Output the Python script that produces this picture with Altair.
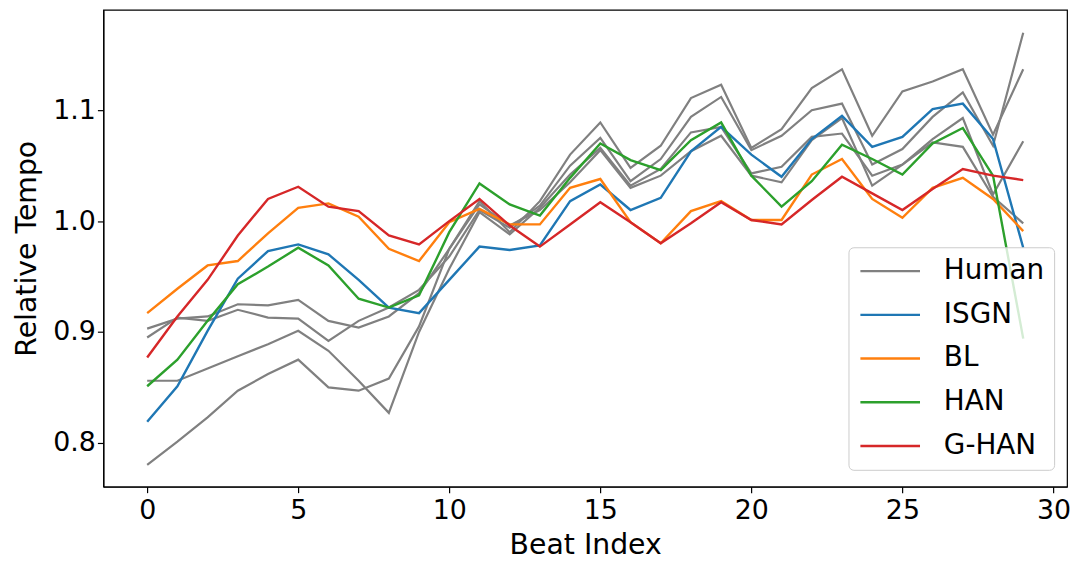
import altair as alt
import pandas as pd

beats = list(range(30))

human_a = [0.903, 0.912, 0.914, 0.925, 0.924, 0.929, 0.910, 0.904, 0.914, 0.935,
           0.975, 1.018, 0.990, 1.018, 1.060, 1.089, 1.048, 1.068, 1.111, 1.123,
           1.066, 1.083, 1.120, 1.137, 1.077, 1.117, 1.126, 1.137, 1.078, 1.137]
human_b = [0.895, 0.913, 0.910, 0.920, 0.913, 0.912, 0.892, 0.910, 0.922, 0.938,
           0.968, 1.010, 0.994, 1.014, 1.050, 1.075, 1.036, 1.056, 1.094, 1.112,
           1.064, 1.077, 1.100, 1.106, 1.051, 1.065, 1.094, 1.116, 1.068, 1.170]
human_c = [0.856, 0.856, 0.867, 0.878, 0.889, 0.901, 0.883, 0.856, 0.827, 0.900,
           0.957, 1.008, 0.988, 1.012, 1.042, 1.066, 1.032, 1.047, 1.080, 1.085,
           1.043, 1.049, 1.076, 1.079, 1.041, 1.051, 1.074, 1.093, 1.024, 1.072]
human_d = [0.780, 0.801, 0.823, 0.847, 0.862, 0.875, 0.850, 0.847, 0.858, 0.905,
           0.975, 1.015, 0.996, 1.010, 1.035, 1.064, 1.030, 1.041, 1.063, 1.077,
           1.041, 1.035, 1.073, 1.093, 1.032, 1.051, 1.071, 1.067, 1.022, 0.998]

isgn = [0.819, 0.851, 0.901, 0.948, 0.973, 0.979, 0.970, 0.947, 0.922, 0.917,
        0.947, 0.977, 0.974, 0.978, 1.018, 1.033, 1.010, 1.021, 1.063, 1.085,
        1.060, 1.040, 1.074, 1.095, 1.067, 1.076, 1.101, 1.106, 1.074, 0.976]
bl = [0.917, 0.939, 0.960, 0.964, 0.989, 1.012, 1.016, 1.004, 0.975, 0.964,
      0.999, 1.011, 0.997, 0.997, 1.030, 1.038, 0.999, 0.980, 1.009, 1.018,
      1.001, 1.001, 1.042, 1.056, 1.020, 1.003, 1.030, 1.039, 1.020, 0.991]
han = [0.851, 0.875, 0.910, 0.943, 0.959, 0.976, 0.960, 0.930, 0.922, 0.933,
       0.990, 1.034, 1.015, 1.005, 1.039, 1.070, 1.055, 1.046, 1.073, 1.089,
       1.041, 1.013, 1.036, 1.069, 1.056, 1.042, 1.070, 1.084, 1.041, 0.894]
ghan = [0.877, 0.914, 0.947, 0.987, 1.020, 1.031, 1.013, 1.009, 0.987, 0.979,
        1.000, 1.020, 0.996, 0.977, 0.997, 1.017, 0.999, 0.980, 0.998, 1.017,
        1.001, 0.997, 1.019, 1.040, 1.025, 1.010, 1.029, 1.047, 1.041, 1.037]

models = ["Human", "ISGN", "BL", "HAN", "G-HAN"]
colors = ["#808080", "#1f77b4", "#ff7f0e", "#2ca02c", "#d62728"]

series = [
    ("h1", "Human", human_a),
    ("h2", "Human", human_b),
    ("h3", "Human", human_c),
    ("h4", "Human", human_d),
    ("isgn", "ISGN", isgn),
    ("bl", "BL", bl),
    ("han", "HAN", han),
    ("ghan", "G-HAN", ghan),
]

rows = []
for k, (line_id, model, vals) in enumerate(series):
    for b, v in zip(beats, vals):
        rows.append({"beat": b, "tempo": v, "line": line_id, "model": model, "k": k})
df = pd.DataFrame(rows)

color_scale = alt.Scale(domain=models, range=colors)

x_enc = alt.X("beat:Q",
              scale=alt.Scale(domain=[-1.45, 30.45], nice=False, zero=False),
              axis=alt.Axis(values=[0, 5, 10, 15, 20, 25, 30], format="d",
                            title="Beat Index", titlePadding=7, labelPadding=5))
y_enc = alt.Y("tempo:Q",
              scale=alt.Scale(domain=[0.7604, 1.1906], nice=False, zero=False),
              axis=alt.Axis(values=[0.8, 0.9, 1.0, 1.1], format=".1f",
                            title="Relative Tempo", titlePadding=11))

legend = alt.Legend(
    title=None,
    orient="none",
    legendX=750,
    legendY=239,
    symbolType="M-3,0L3,0",
    symbolSize=400,
    symbolStrokeWidth=2.4,
    symbolOffset=18,
    labelFontSize=28,
    labelFont="DejaVu Sans",
    labelColor="black",
    labelOffset=40,
    rowPadding=16,
    padding=10,
    fillColor="rgba(255,255,255,0.8)",
    strokeColor="#cccccc",
    cornerRadius=5,
)

human_layer = alt.Chart(df[df["model"] == "Human"]).mark_line(
    strokeWidth=2.2, clip=True
).encode(
    x=x_enc, y=y_enc,
    color=alt.Color("model:N", scale=color_scale, legend=legend),
    detail="line:N",
)

model_layer = alt.Chart(df[df["model"] != "Human"]).mark_line(
    strokeWidth=2.4, clip=True
).encode(
    x=x_enc, y=y_enc,
    color=alt.Color("model:N", scale=color_scale, legend=legend),
    detail="line:N",
)

chart = alt.layer(human_layer, model_layer).properties(
    width=970,
    height=480,
    padding={"left": 96, "top": 0, "right": 6, "bottom": 80},
    autosize=alt.AutoSizeParams(type="none"),
).configure_view(
    stroke="black", strokeWidth=1.2
).configure_axis(
    labelFont="DejaVu Sans", titleFont="DejaVu Sans",
    labelFontSize=27, titleFontSize=28.5, titleFontWeight="normal",
    labelColor="black", titleColor="black",
    domainColor="black", tickColor="black",
    grid=False, tickSize=6, domainWidth=1.2, tickWidth=1.2,
)

chart.save("out.html", embed_options={"renderer": "svg", "actions": False})
